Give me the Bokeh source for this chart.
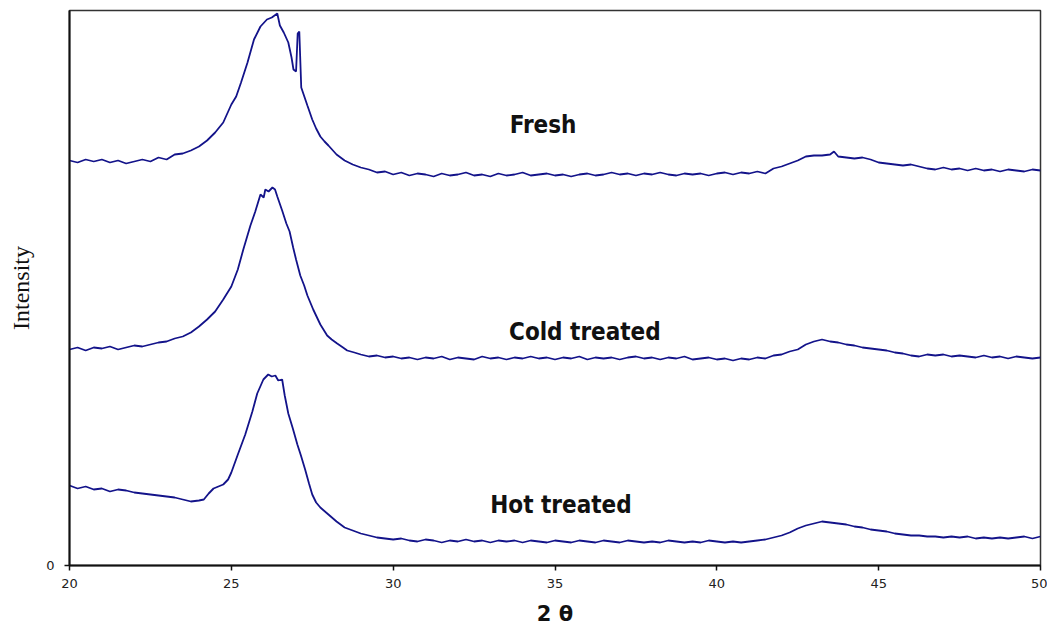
from bokeh.plotting import figure
from bokeh.models import FixedTicker, Range1d, ColumnDataSource
from bokeh.core.properties import value
from bokeh.embed import file_html
from bokeh.resources import INLINE

# ---- data (2 theta in degrees, intensity in arbitrary units, curves offset) ----
fresh_x = [20.00, 20.25, 20.50, 20.75, 21.00, 21.25, 21.50, 21.75, 22.00, 22.25, 22.50, 22.75,
           23.00, 23.25, 23.50, 23.75, 24.00, 24.25, 24.50, 24.75, 25.00, 25.15, 25.30, 25.50,
           25.70, 25.90, 26.10, 26.25, 26.42, 26.50, 26.62, 26.76, 26.86, 26.92, 27.00, 27.05,
           27.10, 27.16, 27.35, 27.50, 27.62, 27.75, 27.88, 28.00, 28.25, 28.50, 28.75, 29.00,
           29.25, 29.50, 29.75, 30.00, 30.25, 30.50, 30.75, 31.00, 31.25, 31.50, 31.75, 32.00,
           32.25, 32.50, 32.75, 33.00, 33.25, 33.50, 33.75, 34.00, 34.25, 34.50, 34.75, 35.00,
           35.25, 35.50, 35.75, 36.00, 36.25, 36.50, 36.75, 37.00, 37.25, 37.50, 37.75, 38.00,
           38.25, 38.50, 38.75, 39.00, 39.25, 39.50, 39.75, 40.00, 40.25, 40.50, 40.75, 41.00,
           41.25, 41.50, 41.75, 42.00, 42.25, 42.50, 42.75, 43.00, 43.25, 43.50, 43.62, 43.75,
           44.00, 44.25, 44.50, 44.75, 45.00, 45.25, 45.50, 45.75, 46.00, 46.25, 46.50, 46.75,
           47.00, 47.25, 47.50, 47.75, 48.00, 48.25, 48.50, 48.75, 49.00, 49.25, 49.50, 49.75, 50.00]
fresh_y = [405, 403, 406, 404, 406, 403, 405, 402, 404, 406, 404, 408,
           406, 411, 412, 415, 419, 425, 433, 443, 461, 469, 483, 503,
           526, 539, 546, 548, 552, 540, 533, 523, 508, 496, 494, 532,
           534, 478, 460, 446, 437, 429, 424, 420, 411, 405, 401, 398,
           396, 393, 394, 391, 393, 390, 392, 391, 389, 392, 390, 391,
           393, 390, 391, 389, 392, 390, 391, 393, 390, 391, 392, 390,
           391, 389, 391, 392, 390, 391, 393, 391, 392, 390, 392, 391,
           393, 391, 390, 392, 391, 392, 390, 392, 393, 391, 393, 392,
           394, 392, 397, 399, 402, 405, 409, 410, 410, 411, 414, 409,
           408, 407, 408, 406, 403, 402, 401, 400, 401, 399, 397, 396,
           398, 396, 397, 395, 397, 395, 396, 394, 396, 395, 394, 396, 395]

cold_x = [20.00, 20.25, 20.50, 20.75, 21.00, 21.25, 21.50, 21.75, 22.00, 22.25, 22.50, 22.75,
          23.00, 23.25, 23.50, 23.75, 24.00, 24.25, 24.50, 24.75, 25.00, 25.20, 25.37, 25.59,
          25.74, 25.90, 26.00, 26.05, 26.15, 26.27, 26.35, 26.42, 26.57, 26.70, 26.80, 26.91,
          27.00, 27.13, 27.25, 27.35, 27.53, 27.75, 27.96, 28.10, 28.27, 28.45, 28.58, 28.80,
          29.00, 29.25, 29.50, 29.75, 30.00, 30.25, 30.50, 30.75, 31.00, 31.25, 31.50, 31.75,
          32.00, 32.25, 32.50, 32.75, 33.00, 33.25, 33.50, 33.75, 34.00, 34.25, 34.50, 34.75,
          35.00, 35.25, 35.50, 35.75, 36.00, 36.25, 36.50, 36.75, 37.00, 37.25, 37.50, 37.75,
          38.00, 38.25, 38.50, 38.75, 39.00, 39.25, 39.50, 39.75, 40.00, 40.25, 40.50, 40.75,
          41.00, 41.25, 41.50, 41.75, 42.00, 42.25, 42.50, 42.75, 43.00, 43.25, 43.50, 43.75,
          44.00, 44.25, 44.50, 44.75, 45.00, 45.25, 45.50, 45.75, 46.00, 46.25, 46.50, 46.75,
          47.00, 47.25, 47.50, 47.75, 48.00, 48.25, 48.50, 48.75, 49.00, 49.25, 49.50, 49.75, 50.00]
cold_y = [216, 218, 215, 218, 217, 219, 216, 218, 220, 219, 221, 223,
          224, 227, 229, 233, 239, 246, 254, 266, 279, 296, 316, 340,
          354, 371, 368, 376, 374, 378, 376, 369, 355, 342, 334, 318,
          306, 290, 280, 270, 256, 241, 230, 226, 222, 218, 215, 213,
          211, 209, 210, 208, 209, 207, 208, 206, 208, 207, 209, 206,
          208, 207, 206, 209, 207, 208, 206, 208, 207, 209, 207, 208,
          206, 208, 207, 209, 206, 208, 207, 208, 206, 208, 209, 207,
          208, 206, 208, 207, 209, 206, 207, 208, 206, 207, 205, 207,
          206, 208, 207, 210, 211, 214, 216, 221, 224, 226, 224, 223,
          221, 220, 218, 217, 216, 215, 213, 212, 210, 209, 211, 210,
          211, 209, 210, 209, 208, 210, 208, 209, 207, 209, 208, 207, 208]

hot_x = [20.00, 20.25, 20.50, 20.75, 21.00, 21.25, 21.50, 21.75, 22.00, 22.25, 22.50, 22.75,
         23.00, 23.25, 23.50, 23.75, 24.00, 24.15, 24.30, 24.45, 24.60, 24.75, 24.90, 25.00,
         25.19, 25.43, 25.65, 25.80, 25.99, 26.14, 26.25, 26.36, 26.45, 26.57, 26.65, 26.76,
         26.90, 27.04, 27.15, 27.28, 27.40, 27.50, 27.62, 27.75, 28.00, 28.25, 28.50, 28.75,
         29.00, 29.25, 29.50, 29.75, 30.00, 30.25, 30.50, 30.75, 31.00, 31.25, 31.50, 31.75,
         32.00, 32.25, 32.50, 32.75, 33.00, 33.25, 33.50, 33.75, 34.00, 34.25, 34.50, 34.75,
         35.00, 35.25, 35.50, 35.75, 36.00, 36.25, 36.50, 36.75, 37.00, 37.25, 37.50, 37.75,
         38.00, 38.25, 38.50, 38.75, 39.00, 39.25, 39.50, 39.75, 40.00, 40.25, 40.50, 40.75,
         41.00, 41.25, 41.50, 41.75, 42.00, 42.25, 42.50, 42.75, 43.00, 43.25, 43.50, 43.75,
         44.00, 44.25, 44.50, 44.75, 45.00, 45.25, 45.50, 45.75, 46.00, 46.25, 46.50, 46.75,
         47.00, 47.25, 47.50, 47.75, 48.00, 48.25, 48.50, 48.75, 49.00, 49.25, 49.50, 49.75, 50.00]
hot_y = [80, 77, 79, 76, 77, 74, 76, 75, 73, 72, 71, 70,
         69, 68, 66, 64, 65, 66, 72, 77, 79, 81, 86, 93,
         110, 131, 154, 172, 186, 191, 189, 190, 185, 186, 170, 152,
         137, 121, 110, 96, 82, 71, 63, 58, 51, 44, 38, 35,
         32, 30, 28, 27, 26, 27, 25, 24, 26, 25, 23, 25,
         24, 26, 24, 25, 23, 25, 24, 25, 23, 25, 24, 23,
         25, 24, 23, 25, 24, 23, 25, 24, 23, 25, 24, 23,
         24, 23, 25, 24, 23, 24, 23, 25, 24, 23, 24, 23,
         24, 25, 26, 28, 30, 33, 37, 40, 42, 44, 43, 42,
         41, 39, 38, 36, 35, 34, 32, 31, 30, 30, 29, 29,
         28, 29, 28, 29, 27, 28, 27, 28, 27, 28, 29, 27, 29]

x_ticks = [20, 25, 30, 35, 40, 45, 50]
y_ticks = [0]

label_text = ["Fresh", "Cold treated", "Hot treated"]
label_x = [33.6, 33.58, 33.0]
label_y = [441, 234, 61]

x_title = "2 θ"
y_title = "Intensity"

# ---- figure ----
p = figure(width=1047, height=630, output_backend="svg", toolbar_location=None,
           x_range=Range1d(20, 50), y_range=Range1d(0, 555),
           min_border_left=69, min_border_right=7, min_border_top=10, min_border_bottom=65,
           background_fill_color="white", border_fill_color="white")

line_color = "#13138a"
for xs, ys in [(fresh_x, fresh_y), (cold_x, cold_y), (hot_x, hot_y)]:
    p.line(xs, ys, line_color=line_color, line_width=1.8)

src = ColumnDataSource(dict(x=label_x, y=label_y, text=label_text))
p.text(x="x", y="y", text="text", source=src,
       text_font=value("DejaVu Sans Condensed"), text_font_style="bold",
       text_font_size="24px", text_color="#111111",
       text_align="left", text_baseline="alphabetic")

p.xgrid.visible = False
p.ygrid.visible = False
p.outline_line_color = "#333333"
p.outline_line_width = 1.5

p.xaxis.ticker = FixedTicker(ticks=x_ticks)
p.yaxis.ticker = FixedTicker(ticks=y_ticks)
for ax in (p.xaxis[0], p.yaxis[0]):
    ax.minor_tick_line_color = None
    ax.axis_line_color = "#111111"
    ax.axis_line_width = 2
    ax.major_tick_line_color = "#111111"
    ax.major_tick_line_width = 1.5
    ax.major_tick_in = 0
    ax.major_tick_out = 5
    ax.major_label_text_font = "DejaVu Sans"
    ax.major_label_text_font_size = "13px"
    ax.major_label_text_color = "#222222"

p.xaxis.major_label_standoff = 8
p.yaxis.major_label_standoff = 10

p.xaxis.axis_label = x_title
p.xaxis.axis_label_text_font = "DejaVu Sans"
p.xaxis.axis_label_text_font_style = "bold"
p.xaxis.axis_label_text_font_size = "21px"
p.xaxis.axis_label_text_color = "#111111"
p.xaxis.axis_label_standoff = 11

p.yaxis.axis_label = y_title
p.yaxis.axis_label_text_font = "Liberation Serif"
p.yaxis.axis_label_text_font_style = "normal"
p.yaxis.axis_label_text_font_size = "24px"
p.yaxis.axis_label_text_color = "#111111"
p.yaxis.axis_label_standoff = 9

open("out.html", "w").write(file_html(p, INLINE))
